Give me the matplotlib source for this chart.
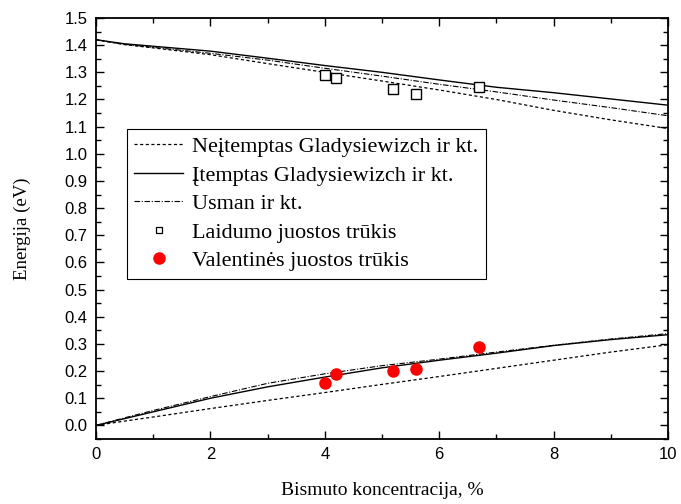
import numpy as np
import matplotlib
matplotlib.use('Agg')
import matplotlib.pyplot as plt
from matplotlib.ticker import MultipleLocator
from matplotlib.lines import Line2D

# Bi concentration grid for the model curves
x = [0, 0.5, 1, 2, 3, 4, 5, 6, 7, 8, 9, 10]

# conduction band (top group)
cb_unstrained = [1.42, 1.402, 1.390, 1.365, 1.332, 1.300, 1.268, 1.235, 1.200, 1.160, 1.125, 1.093]
cb_strained = [1.42, 1.405, 1.396, 1.378, 1.352, 1.325, 1.300, 1.272, 1.245, 1.225, 1.202, 1.179]
cb_usman = [1.42, 1.403, 1.392, 1.370, 1.345, 1.315, 1.286, 1.256, 1.228, 1.198, 1.170, 1.140]

# valence band (bottom group)
vb_unstrained = [0.0, 0.016, 0.031, 0.062, 0.092, 0.121, 0.151, 0.180, 0.210, 0.240, 0.270, 0.297]
vb_strained = [0.0, 0.025, 0.050, 0.100, 0.142, 0.178, 0.212, 0.240, 0.266, 0.294, 0.316, 0.334]
vb_usman = [0.0, 0.028, 0.055, 0.106, 0.155, 0.190, 0.220, 0.244, 0.270, 0.295, 0.318, 0.338]

# experimental points
x_exp = [4.0, 4.2, 5.2, 5.6, 6.7]
cb_exp = [1.289, 1.278, 1.237, 1.220, 1.247]
vb_exp = [0.158, 0.188, 0.199, 0.207, 0.287]

labels = ['Neįtemptas Gladysiewizch ir kt.', 'Įtemptas Gladysiewizch ir kt.',
          'Usman ir kt.', 'Laidumo juostos trūkis', 'Valentinės juostos trūkis']

dashed = (0, (2.5, 2))
dashdot = (0, (5, 1.5, 1, 1.5))

fig = plt.figure(figsize=(6.81, 5.04), dpi=100)
ax = fig.add_axes([96/681, 1 - 439/504, 572/681, 421/504])

ax.plot(x, cb_unstrained, color='black', lw=0.9, ls=dashed)
ax.plot(x, vb_unstrained, color='black', lw=0.9, ls=dashed)
ax.plot(x, cb_strained, color='black', lw=1.0, ls='-')
ax.plot(x, vb_strained, color='black', lw=1.0, ls='-')
ax.plot(x, cb_usman, color='black', lw=0.8, ls=dashdot)
ax.plot(x, vb_usman, color='black', lw=0.8, ls=dashdot)
ax.plot(x_exp, cb_exp, ls='none', marker='s', ms=6.5, mfc='white', mec='black', mew=1.0)
ax.plot(x_exp, vb_exp, ls='none', marker='o', ms=8, mfc='red', mec='red')

ax.set_xlim(0, 10)
ax.set_ylim(-0.05, 1.5)
ax.xaxis.set_major_locator(MultipleLocator(2))
ax.xaxis.set_minor_locator(MultipleLocator(1))
ax.yaxis.set_major_locator(MultipleLocator(0.1))
ax.yaxis.set_minor_locator(MultipleLocator(0.05))
ax.yaxis.set_major_formatter(matplotlib.ticker.FormatStrFormatter('%.1f'))
ax.tick_params(which='both', direction='in', top=True, right=True, width=1.0)
ax.tick_params(which='major', length=6, labelsize=12, pad=6)
ax.tick_params(which='minor', length=3.5)
for lab in ax.get_xticklabels() + ax.get_yticklabels():
    lab.set_family('Liberation Sans')
for s in ax.spines.values():
    s.set_linewidth(1.3)

ax.set_xlabel('Bismuto koncentracija, %', family='Liberation Serif', fontsize=14, labelpad=14)
ax.set_ylabel('Energija (eV)', family='Liberation Serif', fontsize=13.5, labelpad=24)

# legend handles: square in the legend is smaller than on the plot
handles = [Line2D([], [], color='black', lw=0.9, ls=dashed),
           Line2D([], [], color='black', lw=1.0, ls='-'),
           Line2D([], [], color='black', lw=0.8, ls=dashdot),
           Line2D([], [], ls='none', marker='s', ms=5, mfc='white', mec='black', mew=0.9),
           Line2D([], [], ls='none', marker='o', ms=8, mfc='red', mec='red')]
leg = ax.legend(handles, labels, loc='upper left',
                bbox_to_anchor=(0.054, 0.736), prop={'family': 'Liberation Serif', 'size': 16},
                frameon=True, fancybox=False, framealpha=1, edgecolor='black',
                handlelength=2.2, labelspacing=0.36, borderpad=0.33, handletextpad=0.4,
                borderaxespad=0)
leg.get_frame().set_linewidth(0.8)

fig.savefig('out.png', dpi=100)
